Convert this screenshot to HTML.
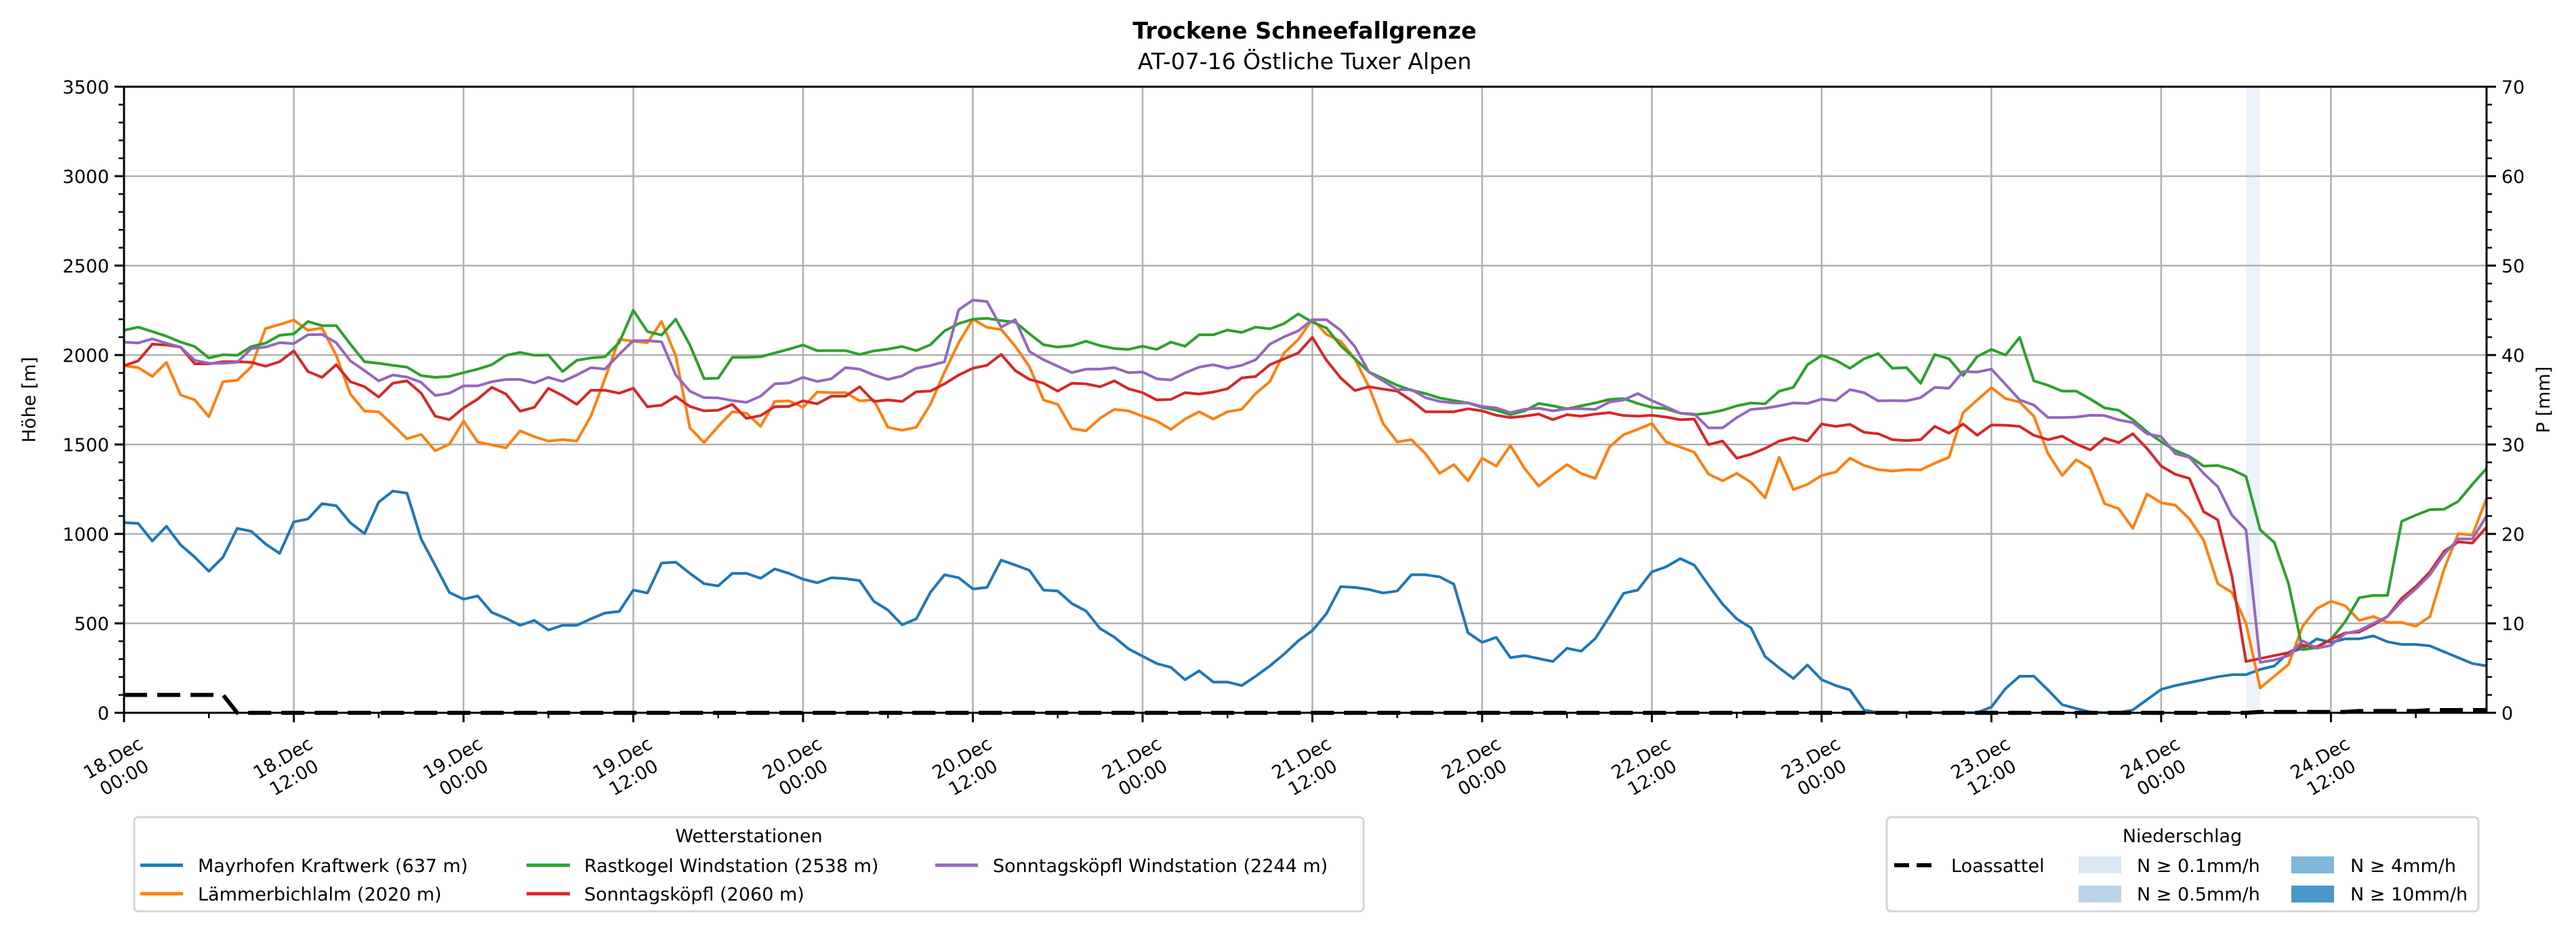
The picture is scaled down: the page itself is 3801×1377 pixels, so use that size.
<!DOCTYPE html>
<html><head><meta charset="utf-8">
<style>
html,body{margin:0;padding:0;background:#fff;}
svg{display:block;font-family:"DejaVu Sans","Liberation Sans",sans-serif;}
</style></head>
<body>
<svg id="c" width="3801" height="1377" viewBox="0 0 3801 1377" xmlns="http://www.w3.org/2000/svg">
<rect width="3801" height="1377" fill="#fff"/>
<g id="bg"></g>
<g id="grid" stroke="#b0b0b0" stroke-width="2.5"></g>
<g id="series" fill="none" stroke-width="4" stroke-linejoin="round"></g>
<g id="axes"></g>
<text x="1925" y="57" font-size="33.5" font-weight="bold" text-anchor="middle">Trockene Schneefallgrenze</text>
<text x="1925" y="102" font-size="33" text-anchor="middle">AT-07-16 Östliche Tuxer Alpen</text>
<text transform="translate(52,590) rotate(-90)" font-size="27" text-anchor="middle">Höhe [m]</text>
<text transform="translate(3762,590) rotate(-90)" font-size="27" text-anchor="middle">P [mm]</text>
<g id="xl" font-size="27" text-anchor="middle"></g>
<!-- legend 1 -->
<rect x="198" y="1206" width="1814" height="139" rx="6" fill="#fff" stroke="#d5d5d5" stroke-width="3"/>
<text x="1105" y="1243" font-size="27" text-anchor="middle">Wetterstationen</text>
<g stroke-width="5">
<line x1="207" y1="1277" x2="270" y2="1277" stroke="#1f77b4"/>
<line x1="207" y1="1319" x2="270" y2="1319" stroke="#ff7f0e"/>
<line x1="777" y1="1277" x2="841" y2="1277" stroke="#2ca02c"/>
<line x1="777" y1="1319" x2="841" y2="1319" stroke="#d62728"/>
<line x1="1380" y1="1277" x2="1443" y2="1277" stroke="#9467bd"/>
</g>
<g font-size="27">
<text x="292" y="1287">Mayrhofen Kraftwerk (637 m)</text>
<text x="292" y="1329">Lämmerbichlalm (2020 m)</text>
<text x="862" y="1287">Rastkogel Windstation (2538 m)</text>
<text x="862" y="1329">Sonntagsköpfl (2060 m)</text>
<text x="1465" y="1287">Sonntagsköpfl Windstation (2244 m)</text>
</g>
<!-- legend 2 -->
<rect x="2784" y="1206" width="873" height="139" rx="6" fill="#fff" stroke="#d5d5d5" stroke-width="3"/>
<text x="3220" y="1243" font-size="27" text-anchor="middle">Niederschlag</text>
<line x1="2795" y1="1277" x2="2851" y2="1277" stroke="#000" stroke-width="6" stroke-dasharray="22,11"/>
<rect x="3067" y="1264" width="63" height="25" fill="#dae8f5"/>
<rect x="3067" y="1307" width="63" height="25" fill="#b9d5ea"/>
<rect x="3381" y="1264" width="63" height="25" fill="#7fb8da"/>
<rect x="3381" y="1307" width="63" height="25" fill="#4a98c9"/>
<g font-size="27">
<text x="2879" y="1287">Loassattel</text>
<text x="3153" y="1287">N ≥ 0.1mm/h</text>
<text x="3153" y="1329">N ≥ 0.5mm/h</text>
<text x="3468" y="1287">N ≥ 4mm/h</text>
<text x="3468" y="1329">N ≥ 10mm/h</text>
</g>
<g id="ylab" font-size="27"></g>
</svg>
<script>
(function(){
var NS="http://www.w3.org/2000/svg";
var L=183,R=3669,T=128,B=1052;
function X(h){return L+h*(R-L)/167;}
function Ym(m){return B-m*(B-T)/3500;}
function el(p,t,a){var e=document.createElementNS(NS,t);for(var k in a)e.setAttribute(k,a[k]);document.getElementById(p).appendChild(e);return e;}
el("bg","rect",{x:X(150),y:T,width:X(151)-X(150),height:B-T,fill:"#edf3fb"});
for(var h=0;h<=156;h+=12){el("grid","line",{x1:X(h),y1:T,x2:X(h),y2:B});}
for(var m=500;m<3500;m+=500){el("grid","line",{x1:L,y1:Ym(m),x2:R,y2:Ym(m)});}
var blue=[902,905,965,915,978,1020,1068,1020,922,932,975,1007,900,890,838,845,903,940,833,795,802,958,1048,1140,1163,1152,1208,1228,1252,1235,1268,1252,1252,1230,1210,1205,1132,1142,1040,1037,1075,1110,1118,1075,1075,1092,1060,1075,1095,1107,1090,1093,1100,1170,1200,1250,1230,1140,
1080,1090,1128,1123,1030,1047,1065,1132,1135,1178,1203,1263,1292,1332,1357,1382,1395,1437,1407,1445,1445,1457,1425,1390,1350,1305,1270,1212,1120,1123,1130,1142,1135,1080,1080,1087,1112,1277,1310,1293,1362,1355,1365,1375,1330,1340,1297,1222,1143,1132,1070,1053,1025,1047,1115,1180,1230,
1260,1358,1397,1433,1387,1437,1457,1472,1540,1549,1549,1549,1549,1549,1549,1549,1549,1530,1467,1425,1425,1472,1522,1535,1547,1549,1549,1540,1505,1470,1457,1447,1437,1427,1420,1420,1402,1390,1345,1330,1298,1310,1298,1298,1288,1308,1317,1317,1322,1342,1362,1382,1390];
var green=[248,237,252,268,288,303,342,331,333,303,292,265,260,218,232,232,295,355,360,367,373,402,408,405,392,380,365,333,323,333,332,388,350,342,338,290,180,252,264,210,298,412,411,340,340,338,325,312,298,317,317,317,330,318,312,303,317,297,
250,225,210,207,215,220,260,297,305,300,285,300,310,313,302,313,288,302,263,263,247,255,237,243,225,192,220,240,300,345,390,412,435,452,463,478,487,495,510,520,535,522,497,505,515,505,495,483,480,497,510,515,530,535,530,520,505,
495,498,455,442,365,333,350,377,345,327,377,375,428,330,345,402,337,313,332,272,420,435,455,455,482,512,520,552,593,627,657,677,710,708,722,745,927,970,1110,1335,1328,1300,1240,1158,1150,1150,898,877,858,857,830,772,718];
var orange=[368,375,405,357,468,485,542,423,418,372,242,228,213,248,240,333,465,523,525,570,617,602,658,635,557,628,638,648,590,610,625,620,625,540,412,278,285,290,218,335,580,630,575,525,530,575,490,488,510,458,460,460,488,485,578,588,578,500,
390,290,210,238,245,302,372,485,500,582,590,547,517,522,540,557,585,550,525,550,525,517,463,422,325,280,210,262,285,345,440,565,628,620,668,735,705,760,683,710,640,718,778,740,705,735,752,645,603,585,565,628,645,663,737,760,735,
765,818,680,790,772,742,730,683,708,722,727,722,723,700,680,528,485,443,480,492,540,667,742,688,718,838,855,922,805,835,843,890,962,1110,1140,1245,1465,1425,1385,1255,1195,1170,1185,1235,1222,1242,1242,1255,1222,1060,940,945,820];
var red=[368,352,295,298,305,362,362,355,355,357,370,355,318,388,408,365,423,440,475,428,420,462,540,552,512,482,442,465,523,510,445,470,500,452,452,462,445,508,503,473,507,522,520,500,548,538,508,507,488,498,472,472,440,490,485,490,457,455,
430,400,377,367,330,385,415,428,455,428,430,440,420,447,460,485,483,460,465,458,447,410,405,365,345,325,272,350,410,453,440,448,455,487,525,525,525,515,522,537,545,540,533,552,535,540,533,528,538,540,537,543,552,550,637,625,683,
670,650,625,613,625,567,575,568,595,600,620,623,620,575,598,567,605,570,571,575,605,620,608,635,655,615,630,600,650,710,738,752,865,893,1085,1375,1365,1355,1345,1320,1325,1300,1278,1275,1250,1222,1160,1120,1070,1000,968,972,918];
var purple=[288,291,277,292,305,350,360,360,357,310,305,290,293,263,262,290,352,385,420,400,407,425,470,462,437,437,423,415,415,427,408,422,400,375,380,330,283,283,287,400,455,477,478,487,493,472,430,427,408,422,413,375,380,400,415,403,377,368,
355,178,145,150,237,212,320,348,370,392,380,380,375,392,390,413,417,393,373,365,377,367,348,295,270,250,212,212,248,303,390,420,450,450,477,490,495,495,507,512,528,517,513,522,515,515,517,492,485,463,487,508,530,533,580,580,545,
517,513,505,495,497,482,487,450,460,488,487,488,477,442,445,388,390,380,432,485,502,545,545,543,537,538,553,562,600,610,668,680,735,780,877,927,1378,1370,1355,1305,1330,1320,1280,1270,1245,1222,1170,1128,1080,1010,958,958,880];
function poly(arr,col){var p=[];for(var i=0;i<arr.length;i++){var y=380+arr[i]/2.306;if(y>B)y=B;p.push(X(i).toFixed(1)+","+y.toFixed(1));}el("series","polyline",{points:p.join(" "),stroke:col});}
poly(blue,"#1f77b4");poly(orange,"#ff7f0e");poly(green,"#2ca02c");poly(red,"#d62728");poly(purple,"#9467bd");
var lp=[];for(var i=0;i<=167;i++){var v=0;if(i<=7)v=2;else if(i>=151&&i<158)v=0.1;else if(i>=158&&i<163)v=0.2;else if(i>=163)v=0.3;lp.push(X(i).toFixed(1)+","+Ym(v*50).toFixed(1));}
el("series","polyline",{points:lp.join(" "),stroke:"#000","stroke-width":6,"stroke-dasharray":"34,15"});
el("axes","rect",{x:L,y:T,width:R-L,height:B-T,fill:"none",stroke:"#000","stroke-width":3});
for(var m=0;m<=3500;m+=100){var mj=(m%500==0),len=mj?14:8;
 el("axes","line",{x1:L-len,y1:Ym(m),x2:L,y2:Ym(m),stroke:"#000","stroke-width":mj?3:2.5});
 el("axes","line",{x1:R,y1:Ym(m),x2:R+len,y2:Ym(m),stroke:"#000","stroke-width":mj?3:2.5});
 if(mj){var t=el("ylab","text",{x:L-22,y:Ym(m)+10,"text-anchor":"end"});t.textContent=String(m);
  var t2=el("ylab","text",{x:R+22,y:Ym(m)+10});t2.textContent=String(m/50);}
}
for(var h=0;h<=162;h+=6){var mj=(h%12==0),len=mj?14:8;
 el("axes","line",{x1:X(h),y1:B,x2:X(h),y2:B+len,stroke:"#000","stroke-width":mj?3:2.5});}
var days=["18","18","19","19","20","20","21","21","22","22","23","23","24","24"];
for(var k=0;k<14;k++){var h=k*12,cx=X(h)-8,cy=1133;
 var g=el("xl","g",{transform:"translate("+cx+","+cy+") rotate(-30)"});
 var a=document.createElementNS(NS,"text");a.setAttribute("x",0);a.setAttribute("y",-7);a.textContent=days[k]+".Dec";g.appendChild(a);
 var b=document.createElementNS(NS,"text");b.setAttribute("x",0);b.setAttribute("y",26);b.textContent=(k%2?"12:00":"00:00");g.appendChild(b);}
})();
</script>
</body></html>
